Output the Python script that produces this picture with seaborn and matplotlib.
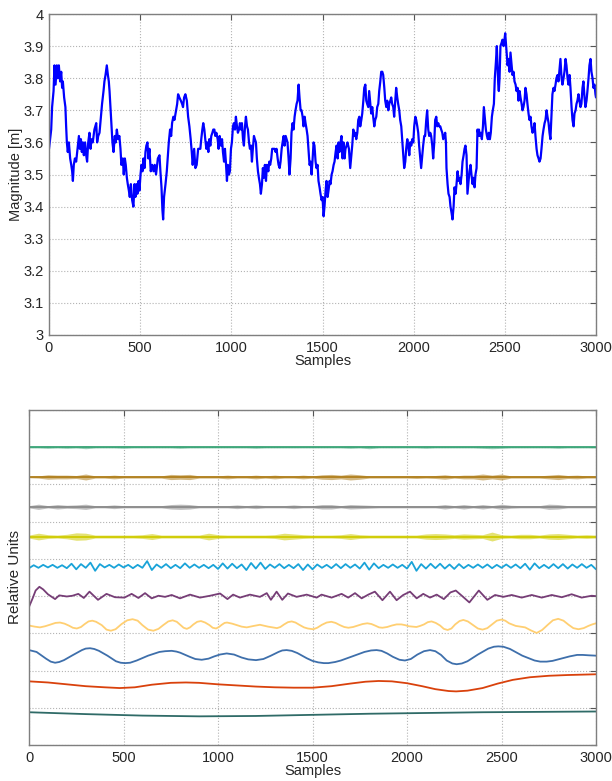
import numpy as np
import matplotlib
matplotlib.use("Agg")
import matplotlib.pyplot as plt
import seaborn as sns

# ---------------- top panel: measured magnitude ----------------
top_samples = [
    0, 12, 17, 25, 30, 36, 43, 48, 54, 61,
    67, 72, 76, 83, 90, 94, 98, 103, 109, 116,
    122, 127, 131, 136, 142, 149, 158, 164, 169, 175,
    180, 186, 191, 198, 204, 209, 215, 222, 228, 233,
    240, 249, 259, 264, 270, 277, 286, 291, 299, 304,
    310, 317, 323, 328, 332, 337, 343, 348, 354, 361,
    366, 372, 379, 386, 392, 397, 405, 410, 416, 421,
    427, 432, 438, 443, 449, 456, 463, 469, 474, 480,
    485, 491, 496, 502, 507, 513, 518, 524, 529, 534,
    540, 545, 551, 558, 566, 573, 580, 587, 597, 606,
    611, 617, 622, 626, 631, 639, 646, 651, 657, 664,
    670, 675, 682, 688, 697, 703, 708, 715, 723, 730,
    735, 741, 748, 756, 763, 770, 777, 783, 788, 796,
    803, 810, 818,
    830, 835, 841, 846, 852, 857, 863, 868, 874, 879,
    885, 890, 896, 901, 907, 912, 918, 925, 930, 936,
    943, 949, 954, 960, 965, 970, 976, 981, 987, 992,
    998, 1003, 1009, 1014, 1020, 1025, 1031, 1036, 1042, 1047,
    1053, 1058, 1064, 1069, 1075, 1080, 1086, 1091, 1097, 1102,
    1108, 1113, 1118, 1124, 1129, 1135, 1140, 1146, 1151, 1157,
    1162, 1168, 1173, 1179, 1184, 1190, 1195, 1203, 1208, 1213,
    1219, 1224, 1232, 1237, 1243, 1248, 1254, 1259, 1265, 1270,
    1276, 1281, 1287, 1292, 1298, 1303, 1308, 1314, 1319, 1325,
    1330, 1336, 1341, 1347, 1352, 1358, 1363, 1369, 1374, 1380,
    1385, 1391, 1396, 1402, 1407, 1413, 1418, 1424, 1429, 1435,
    1440, 1446, 1451, 1456, 1462, 1467, 1473, 1478, 1484, 1489,
    1495, 1500, 1506, 1511, 1517, 1522, 1528, 1533, 1539, 1544,
    1550, 1555, 1561, 1566, 1572, 1577, 1583, 1588, 1593, 1599,
    1604, 1610, 1615, 1621, 1626, 1632, 1637, 1645,
    1652, 1658, 1663, 1669, 1674, 1680, 1685, 1691, 1696, 1702,
    1707, 1713, 1718, 1724, 1729, 1735, 1740, 1745, 1751, 1756,
    1762, 1767, 1773, 1778, 1784, 1789, 1795, 1800, 1806, 1811,
    1817, 1822, 1828, 1833, 1839, 1844, 1850, 1855, 1861, 1866,
    1872, 1877, 1882, 1888, 1893, 1899, 1904, 1910, 1915, 1921,
    1926, 1932, 1937, 1943, 1948, 1954, 1959, 1965, 1970, 1976,
    1981, 1987, 1992, 1998, 2003, 2009, 2014, 2020, 2025, 2030,
    2036, 2041, 2047, 2052, 2058, 2063, 2069, 2074, 2080, 2085,
    2091, 2096, 2102, 2107, 2113, 2118, 2124, 2129, 2135, 2140,
    2146, 2151, 2157, 2162, 2168, 2173, 2177, 2180, 2186, 2191,
    2197, 2202, 2208, 2213, 2219, 2224, 2230, 2235, 2241, 2246,
    2252, 2257, 2263, 2268, 2274, 2279, 2284, 2290, 2295, 2301,
    2306, 2312, 2317, 2323, 2328, 2334, 2339, 2345, 2350, 2356,
    2358, 2363, 2369, 2374, 2380, 2385, 2391, 2396, 2402, 2407,
    2412, 2418, 2423, 2429, 2434, 2440, 2445, 2451, 2456, 2460,
    2464, 2467, 2471, 2476, 2482, 2487, 2493, 2498, 2502, 2506,
    2509, 2515, 2520, 2526, 2531, 2537, 2542, 2548, 2553, 2559,
    2564, 2570, 2575, 2581, 2586, 2592, 2597, 2602, 2608, 2613,
    2619, 2624, 2630, 2635, 2641, 2646, 2652, 2657, 2663, 2668,
    2674, 2679, 2685, 2690, 2696, 2701, 2707, 2712, 2718, 2723,
    2729, 2734, 2740, 2745, 2750, 2756, 2761, 2767, 2772, 2778,
    2783, 2789, 2794, 2800, 2805, 2811, 2816, 2822, 2827, 2833,
    2838, 2844, 2849, 2855, 2860, 2866, 2871, 2877, 2882, 2888,
    2893, 2898, 2904, 2909, 2915, 2920, 2926, 2931, 2937, 2942,
    2948, 2953, 2959, 2964, 2970, 2975, 2981, 2986, 2992, 2997,
    3000,
]
top_magnitude = [
    3.58, 3.64, 3.71, 3.76, 3.84, 3.78, 3.84, 3.80, 3.84, 3.79,
    3.82, 3.77, 3.79, 3.74, 3.71, 3.65, 3.60, 3.57, 3.60, 3.55,
    3.53, 3.51, 3.48, 3.53, 3.55, 3.54, 3.59, 3.62, 3.58, 3.61,
    3.57, 3.60, 3.56, 3.60, 3.56, 3.54, 3.60, 3.63, 3.58, 3.61,
    3.60, 3.64, 3.66, 3.60, 3.62, 3.63, 3.69, 3.72, 3.76, 3.79,
    3.81, 3.84, 3.81, 3.79, 3.76, 3.71, 3.65, 3.60, 3.57, 3.62,
    3.60, 3.64, 3.61, 3.62, 3.58, 3.53, 3.55, 3.50, 3.55, 3.53,
    3.49, 3.47, 3.45, 3.43, 3.47, 3.42, 3.40, 3.47, 3.43, 3.47,
    3.44, 3.48, 3.45, 3.50, 3.53, 3.51, 3.55, 3.52, 3.57, 3.59,
    3.60, 3.55, 3.58, 3.51, 3.53, 3.51, 3.53, 3.50, 3.55, 3.56,
    3.51, 3.46, 3.39, 3.36, 3.43, 3.47, 3.51, 3.55, 3.60, 3.64,
    3.62, 3.66, 3.68, 3.67, 3.70, 3.72, 3.75, 3.74, 3.73, 3.72,
    3.71, 3.74, 3.75, 3.73, 3.68, 3.65, 3.61, 3.57, 3.53, 3.58,
    3.52, 3.53, 3.58,
    3.58, 3.61, 3.64, 3.66, 3.64, 3.61, 3.58, 3.60, 3.57, 3.61,
    3.59, 3.62, 3.63, 3.64, 3.64, 3.62, 3.63, 3.61, 3.58, 3.62,
    3.59, 3.61, 3.57, 3.54, 3.58, 3.54, 3.48, 3.53, 3.50, 3.51,
    3.58, 3.60, 3.65, 3.66, 3.64, 3.68, 3.65, 3.63, 3.64, 3.66,
    3.64, 3.66, 3.61, 3.59, 3.65, 3.68, 3.65, 3.64, 3.60, 3.58,
    3.59, 3.54, 3.58, 3.62, 3.61, 3.60, 3.55, 3.51, 3.49, 3.47,
    3.44, 3.47, 3.52, 3.49, 3.53, 3.48, 3.53, 3.51, 3.54, 3.53,
    3.55, 3.58, 3.58, 3.58, 3.57, 3.58, 3.55, 3.53, 3.52, 3.54,
    3.58, 3.60, 3.62, 3.59, 3.62, 3.61, 3.60, 3.55, 3.50, 3.55,
    3.63, 3.66, 3.64, 3.68, 3.70, 3.72, 3.73, 3.78, 3.74, 3.70,
    3.70, 3.68, 3.65, 3.68, 3.66, 3.64, 3.62, 3.57, 3.53, 3.54,
    3.50, 3.55, 3.60, 3.59, 3.54, 3.52, 3.53, 3.48, 3.46, 3.44,
    3.42, 3.43, 3.37, 3.40, 3.45, 3.48, 3.43, 3.45, 3.48, 3.47,
    3.50, 3.51, 3.53, 3.54, 3.57, 3.59, 3.55, 3.60, 3.57, 3.60,
    3.62, 3.55, 3.60, 3.55, 3.58, 3.59, 3.60, 3.58,
    3.52, 3.56, 3.59, 3.64, 3.62, 3.63, 3.61, 3.63, 3.67, 3.68,
    3.65, 3.67, 3.69, 3.73, 3.77, 3.78, 3.73, 3.72, 3.71, 3.76,
    3.72, 3.69, 3.71, 3.68, 3.65, 3.67, 3.68, 3.71, 3.72, 3.76,
    3.79, 3.82, 3.82, 3.81, 3.77, 3.73, 3.71, 3.73, 3.70, 3.72,
    3.73, 3.74, 3.72, 3.71, 3.68, 3.73, 3.77, 3.74, 3.72, 3.70,
    3.67, 3.65, 3.61, 3.56, 3.52, 3.54, 3.58, 3.61, 3.59, 3.56,
    3.60, 3.59, 3.61, 3.60, 3.65, 3.68, 3.67, 3.65, 3.63, 3.59,
    3.55, 3.52, 3.56, 3.59, 3.62, 3.62, 3.67, 3.70, 3.64, 3.62,
    3.63, 3.62, 3.59, 3.55, 3.60, 3.67, 3.68, 3.65, 3.66, 3.65,
    3.65, 3.64, 3.63, 3.61, 3.62, 3.63, 3.60, 3.52, 3.47, 3.44,
    3.43, 3.40, 3.38, 3.36, 3.40, 3.46, 3.44, 3.47, 3.51, 3.48,
    3.49, 3.47, 3.50, 3.54, 3.56, 3.58, 3.59, 3.56, 3.44, 3.48,
    3.51, 3.53, 3.50, 3.47, 3.49, 3.46, 3.50, 3.52, 3.64, 3.62,
    3.64, 3.62, 3.63, 3.61, 3.65, 3.71, 3.67, 3.64, 3.62, 3.61,
    3.63, 3.61, 3.63, 3.68, 3.70, 3.72, 3.80, 3.85, 3.90, 3.84,
    3.78, 3.76, 3.80, 3.90, 3.91, 3.92, 3.90, 3.92, 3.94, 3.91,
    3.89, 3.84, 3.86, 3.82, 3.88, 3.84, 3.81, 3.82, 3.79, 3.78,
    3.76, 3.77, 3.73, 3.76, 3.74, 3.72, 3.70, 3.71, 3.73, 3.77,
    3.75, 3.72, 3.69, 3.67, 3.68, 3.65, 3.63, 3.64, 3.66, 3.62,
    3.58, 3.56, 3.55, 3.54, 3.55, 3.58, 3.62, 3.64, 3.66, 3.67,
    3.70, 3.68, 3.66, 3.63, 3.61, 3.69, 3.75, 3.77, 3.76, 3.78,
    3.80, 3.81, 3.79, 3.83, 3.86, 3.80, 3.78, 3.80, 3.82, 3.86,
    3.84, 3.80, 3.78, 3.81, 3.77, 3.71, 3.67, 3.65, 3.69, 3.70,
    3.72, 3.73, 3.75, 3.73, 3.71, 3.72, 3.77, 3.79, 3.74, 3.71,
    3.73, 3.76, 3.80, 3.84, 3.86, 3.82, 3.80, 3.77, 3.78, 3.75,
    3.74,
]
assert len(top_samples) == len(top_magnitude)

x_ticks = [0, 500, 1000, 1500, 2000, 2500, 3000]
top_y_ticks = [3.0, 3.1, 3.2, 3.3, 3.4, 3.5, 3.6, 3.7, 3.8, 3.9, 4.0]
top_y_labels = ["3", "3.1", "3.2", "3.3", "3.4", "3.5", "3.6", "3.7", "3.8", "3.9", "4"]

# ---------------- bottom panel: components (relative units) ----------------
# stacking level of each component, top to bottom
comp_offsets = [8.0, 7.2, 6.4, 5.6, 4.8, 4.0, 3.2, 2.4, 1.6, 0.8]

# high-frequency components: half-width of the noise band, read every 50 samples
noise_samples = list(range(0, 3001, 50))
green_band = [
    0.02, 0.02, 0.03, 0.02, 0.03, 0.02, 0.04, 0.02, 0.02, 0.02,
    0.03, 0.02, 0.02, 0.02, 0.02, 0.02, 0.03, 0.02, 0.02, 0.02,
    0.02, 0.02, 0.02, 0.02, 0.03, 0.02, 0.02, 0.02, 0.02, 0.02,
    0.02, 0.02, 0.02, 0.02, 0.03, 0.02, 0.04, 0.02, 0.02, 0.02,
    0.02, 0.02, 0.03, 0.02, 0.02, 0.02, 0.02, 0.02, 0.03, 0.04,
    0.03, 0.02, 0.02, 0.02, 0.02, 0.02, 0.03, 0.02, 0.02, 0.02,
    0.02,
]
brown_band = [
    0.02, 0.03, 0.06, 0.05, 0.05, 0.04, 0.08, 0.03, 0.03, 0.05,
    0.03, 0.03, 0.03, 0.03, 0.03, 0.07, 0.06, 0.07, 0.03, 0.03,
    0.03, 0.05, 0.03, 0.03, 0.05, 0.03, 0.05, 0.03, 0.03, 0.05,
    0.03, 0.06, 0.07, 0.05, 0.08, 0.06, 0.03, 0.03, 0.03, 0.03,
    0.03, 0.04, 0.03, 0.04, 0.06, 0.03, 0.05, 0.05, 0.08, 0.05,
    0.08, 0.03, 0.03, 0.03, 0.03, 0.05, 0.07, 0.04, 0.05, 0.03,
    0.03,
]
gray_band = [
    0.03, 0.07, 0.03, 0.06, 0.04, 0.05, 0.07, 0.03, 0.03, 0.05,
    0.03, 0.03, 0.03, 0.03, 0.03, 0.06, 0.07, 0.06, 0.03, 0.03,
    0.03, 0.03, 0.05, 0.03, 0.05, 0.03, 0.03, 0.03, 0.05, 0.03,
    0.03, 0.06, 0.06, 0.03, 0.06, 0.05, 0.04, 0.03, 0.03, 0.03,
    0.03, 0.03, 0.03, 0.03, 0.06, 0.03, 0.06, 0.03, 0.06, 0.03,
    0.07, 0.04, 0.03, 0.03, 0.03, 0.07, 0.06, 0.03, 0.03, 0.03,
    0.03,
]
yellow_band = [
    0.04, 0.09, 0.05, 0.04, 0.06, 0.10, 0.09, 0.04, 0.04, 0.04,
    0.04, 0.04, 0.05, 0.08, 0.04, 0.04, 0.04, 0.04, 0.04, 0.09,
    0.05, 0.04, 0.04, 0.04, 0.04, 0.04, 0.05, 0.09, 0.07, 0.05,
    0.04, 0.04, 0.04, 0.05, 0.08, 0.05, 0.04, 0.04, 0.04, 0.04,
    0.04, 0.04, 0.07, 0.08, 0.07, 0.05, 0.07, 0.06, 0.05, 0.12,
    0.05, 0.04, 0.06, 0.06, 0.04, 0.07, 0.08, 0.06, 0.04, 0.05,
    0.04,
]

# cyan component: successive peaks and troughs, every 25 samples
cyan_samples = list(range(0, 3001, 25))
cyan_values = [
    -0.05, 0.03, -0.04, 0.04, -0.03, 0.04, -0.04, 0.03,
    -0.05, 0.07, -0.08, 0.06, -0.04, 0.10, -0.12, 0.06,
    -0.03, 0.04, -0.04, 0.05, -0.03, 0.04, -0.05, 0.04,
    -0.04, 0.14, -0.10, 0.05, -0.04, 0.06, -0.05, 0.04,
    -0.05, 0.08, -0.04, 0.05, -0.04, 0.04, -0.05, 0.04,
    -0.07, 0.08, -0.06, 0.07, -0.05, 0.05, -0.10, 0.09,
    -0.06, 0.10, -0.07, 0.05, -0.04, 0.06, -0.05, 0.04,
    -0.05, 0.06, -0.10, 0.05, -0.08, 0.05, -0.04, 0.04,
    -0.05, 0.06, -0.05, 0.06, -0.04, 0.05, -0.06, 0.10,
    -0.09, 0.08, -0.05, 0.04, -0.04, 0.05, -0.04, 0.04,
    -0.06, 0.12, -0.12, 0.06, -0.06, 0.07, -0.05, 0.07,
    -0.06, 0.05, -0.07, 0.06, -0.05, 0.04, -0.04, 0.05,
    -0.04, 0.05, -0.05, 0.04, -0.04, 0.05, -0.04, 0.05,
    -0.05, 0.07, -0.09, 0.08, -0.05, 0.04, -0.05, 0.06,
    -0.05, 0.06, -0.06, 0.05, -0.04, 0.06, -0.04, 0.04,
    -0.08,
]

purple_samples = [
    0, 20, 35, 55, 75, 100, 138, 160, 200, 230,
    261, 290, 320, 365, 410, 455, 505, 543, 579, 614,
    649, 685, 720, 755, 799, 852, 905, 958, 1011, 1050,
    1080, 1116, 1169, 1222, 1258, 1280, 1310, 1340, 1370, 1416,
    1469, 1522, 1548, 1601, 1654, 1689, 1725, 1760, 1795, 1830,
    1870, 1910, 1945, 1980, 2016, 2051, 2086, 2122, 2157, 2195,
    2230, 2258, 2290, 2330, 2355, 2380, 2425, 2466, 2510, 2554,
    2607, 2660, 2713, 2766, 2819, 2871, 2924, 2977, 3000,
]
purple_values = [
    -0.29, -0.05, 0.15, 0.25, 0.18, 0.05, -0.08, 0.02, -0.01, 0.01,
    0.06, -0.05, 0.12, -0.10, 0.06, -0.03, -0.04, 0.06, -0.05, 0.08,
    -0.06, 0.01, -0.02, 0.03, -0.06, 0.04, -0.04, 0.01, 0.07, -0.08,
    0.04, -0.04, 0.04, -0.02, 0.08, -0.10, 0.12, -0.10, 0.07, -0.02,
    0.04, -0.04, 0.04, -0.04, 0.06, -0.04, 0.08, -0.06, 0.04, 0.12,
    -0.11, 0.12, -0.11, 0.03, 0.12, -0.06, 0.06, -0.04, 0.04, -0.08,
    0.10, 0.15, 0.01, -0.17, -0.01, 0.15, -0.10, 0.03, -0.02, 0.03,
    -0.04, 0.03, -0.04, 0.03, -0.03, 0.05, -0.04, 0.01, 0.00,
]

orange_samples = [
    0, 30, 58, 85, 110, 140, 164, 188, 210, 232,
    253, 275, 295, 315, 335, 355, 385, 410, 433, 458,
    490, 520, 548, 575, 600, 630, 658, 685, 710, 737,
    760, 782, 800, 818, 835, 852, 870, 890, 910, 932,
    955, 972, 990, 1005, 1020, 1035, 1048, 1075, 1100, 1125,
    1152, 1190, 1222, 1265, 1312, 1330, 1350, 1370, 1390, 1410,
    1430, 1455, 1475, 1504, 1525, 1550, 1575, 1600, 1622, 1645,
    1668, 1690, 1715, 1740, 1765, 1790, 1812, 1835, 1852, 1870,
    1895, 1920, 1945, 1970, 1990, 2010, 2050, 2070, 2090, 2110,
    2130, 2152, 2175, 2195, 2215, 2235, 2255, 2278, 2298, 2322,
    2350, 2375, 2400, 2425, 2450, 2475, 2500, 2520, 2540, 2575,
    2600, 2625, 2655, 2686, 2715, 2745, 2772, 2800, 2828, 2855,
    2880, 2907, 2935, 2960, 2980, 3000,
]
orange_values = [
    0.01, -0.02, -0.04, -0.01, 0.03, 0.08, 0.09, 0.06, 0.01, -0.05,
    -0.07, -0.03, 0.05, 0.12, 0.14, 0.11, 0.02, -0.10, -0.13, -0.09,
    0.05, 0.15, 0.18, 0.14, 0.02, -0.10, -0.13, -0.08, 0.02, 0.12,
    0.15, 0.11, 0.03, -0.05, -0.08, -0.04, 0.04, 0.11, 0.13, 0.09,
    0.02, -0.05, -0.07, -0.03, 0.03, 0.08, 0.09, 0.06, 0.02, -0.02,
    -0.04, 0.00, 0.03, -0.02, -0.06, -0.03, 0.04, 0.10, 0.12, 0.09,
    0.03, -0.04, -0.07, -0.09, -0.05, 0.03, 0.09, 0.11, 0.08, 0.02,
    -0.03, -0.05, -0.03, 0.01, 0.05, 0.07, 0.05, 0.00, -0.04, -0.05,
    -0.03, 0.01, 0.04, 0.04, 0.02, -0.01, -0.03, 0.00, 0.04, 0.10,
    0.12, 0.08, 0.01, -0.08, -0.11, -0.07, 0.04, 0.13, 0.16, 0.12,
    0.02, -0.07, -0.10, -0.06, 0.04, 0.14, 0.17, 0.14, 0.07, 0.00,
    -0.02, -0.04, -0.12, -0.19, -0.11, 0.03, 0.15, 0.19, 0.14, 0.03,
    -0.06, -0.09, -0.06, 0.00, 0.04, 0.07,
]

blue_samples = [
    0, 40, 90, 115, 138, 160, 185, 230, 280, 300,
    323, 345, 370, 415, 460, 485, 508, 535, 570, 630,
    690, 720, 755, 780, 800, 850, 880, 914, 950, 980,
    1010, 1046, 1085, 1125, 1160, 1201, 1240, 1280, 1320, 1340,
    1363, 1390, 1420, 1470, 1500, 1530, 1560, 1584, 1620, 1650,
    1710, 1775, 1810, 1839, 1865, 1895, 1925, 1960, 1989, 2020,
    2055, 2090, 2122, 2150, 2180, 2210, 2240, 2263, 2290, 2320,
    2375, 2430, 2460, 2483, 2510, 2545, 2610, 2675, 2705, 2739,
    2770, 2800, 2860, 2900, 2930, 2960, 3000,
]
blue_values = [
    0.15, 0.10, -0.08, -0.16, -0.19, -0.17, -0.12, 0.01, 0.15, 0.19,
    0.20, 0.18, 0.13, 0.00, -0.15, -0.19, -0.20, -0.19, -0.13, 0.00,
    0.10, 0.12, 0.13, 0.11, 0.08, -0.03, -0.09, -0.11, -0.08, -0.02,
    0.03, 0.06, 0.03, -0.05, -0.10, -0.12, -0.09, 0.00, 0.10, 0.14,
    0.15, 0.13, 0.07, -0.07, -0.14, -0.18, -0.20, -0.20, -0.17, -0.13,
    -0.02, 0.10, 0.14, 0.15, 0.13, 0.06, -0.03, -0.11, -0.13, -0.09,
    0.03, 0.12, 0.15, 0.12, 0.02, -0.13, -0.21, -0.23, -0.21, -0.15,
    0.03, 0.19, 0.24, 0.25, 0.24, 0.18, 0.00, -0.13, -0.16, -0.16,
    -0.14, -0.10, -0.02, 0.02, 0.02, 0.01, 0.00,
]

red_samples = [
    0, 100, 200, 300, 400, 480, 560, 650, 750, 830,
    900, 1000, 1100, 1200, 1300, 1400, 1500, 1600, 1700, 1780,
    1850, 1920, 2000, 2080, 2150, 2220, 2260, 2320, 2400, 2480,
    2560, 2650, 2750, 2850, 3000,
]
red_values = [
    0.11, 0.08, 0.03, -0.02, -0.05, -0.07, -0.05, 0.02, 0.07, 0.08,
    0.07, 0.03, 0.00, -0.03, -0.05, -0.06, -0.06, -0.02, 0.05, 0.10,
    0.12, 0.11, 0.06, -0.02, -0.10, -0.15, -0.16, -0.14, -0.07, 0.05,
    0.15, 0.22, 0.26, 0.28, 0.30,
]

teal_samples = [0, 300, 600, 900, 1200, 1500, 1800, 2100, 2400, 2700, 3000]
teal_values = [0.08, 0.03, -0.01, -0.03, -0.02, 0.01, 0.04, 0.06, 0.08, 0.09, 0.10]

band_colors = ["#3aa577", "#b07f1c", "#8a8a8a", "#cfcb00"]
line_colors = ["#19a3d8", "#763d76", "#ffcf72", "#3e6fab", "#d9410c", "#2f6b67"]

# ---------------- drawing ----------------
sns.set_style("white")
plt.rcParams["font.family"] = ["Liberation Sans", "DejaVu Sans"]
plt.rcParams["font.size"] = 10.5

W, H = 612, 781
fig = plt.figure(figsize=(W / 100, H / 100), dpi=100)
ax1 = fig.add_axes([49 / W, 1 - 335 / H, 547 / W, 321 / H])
ax2 = fig.add_axes([29 / W, 1 - 745 / H, 567 / W, 335 / H])

sns.lineplot(x=top_samples, y=top_magnitude, ax=ax1, color="#0000ff",
             linewidth=1.6, estimator=None, sort=False)

# noise-like components as thin bands around a centre line
bands = [green_band, brown_band, gray_band, yellow_band]
for band, off, col in zip(bands, comp_offsets[:4], band_colors):
    b = np.asarray(band)
    ax2.fill_between(noise_samples, off - b, off + b, color=col, lw=0, alpha=0.55)
    sns.lineplot(x=noise_samples, y=[off] * len(noise_samples), ax=ax2,
                 color=col, linewidth=1.3, estimator=None)

smooth = [
    (cyan_samples, cyan_values),
    (purple_samples, purple_values),
    (orange_samples, orange_values),
    (blue_samples, blue_values),
    (red_samples, red_values),
    (teal_samples, teal_values),
]
for (xs, ys), off, col in zip(smooth, comp_offsets[4:], line_colors):
    assert len(xs) == len(ys)
    sns.lineplot(x=xs, y=[off + v for v in ys], ax=ax2, color=col,
                 linewidth=1.3, estimator=None)

for ax in (ax1, ax2):
    ax.set_xlim(0, 3000)
    ax.set_xticks(x_ticks)
    ax.set_xticklabels([str(t) for t in x_ticks])
    ax.grid(True, linestyle=":", color="#b3b3b3", linewidth=0.8)
    ax.set_axisbelow(True)
    ax.tick_params(direction="in", top=True, right=True, length=4,
                   width=0.8, color="#555555", labelsize=10.5, pad=4)
    for sp in ax.spines.values():
        sp.set_color("#7f7f7f")
        sp.set_linewidth(1.0)
    ax.set_xlabel("Samples", fontsize=10.5)

ax1.set_ylim(3, 4)
ax1.set_yticks(top_y_ticks)
ax1.set_yticklabels(top_y_labels)
ax1.set_ylabel("Magnitude [m]", fontsize=10.5)
ax1.yaxis.set_label_coords(-0.048, 0.5)
ax1.xaxis.set_label_coords(0.5, -0.058)

ax2.set_ylim(0, 9)
ax2.set_yticks(list(range(10)))
ax2.set_yticklabels([])
ax2.set_ylabel("Relative Units", fontsize=11)
ax2.yaxis.set_label_coords(-0.013, 0.5)
ax2.xaxis.set_label_coords(0.5, -0.056)

fig.savefig("out.png", dpi=100)
